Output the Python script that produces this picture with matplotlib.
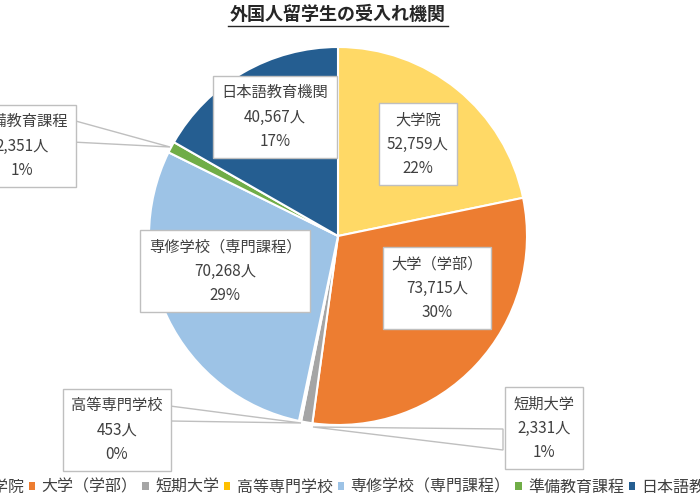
import matplotlib.pyplot as plt
from matplotlib.patches import Patch, Polygon

plt.rcParams['font.family'] = ['Noto Sans CJK JP', 'DejaVu Sans']

categories = ['大学院', '大学（学部）', '短期大学', '高等専門学校',
              '専修学校（専門課程）', '準備教育課程', '日本語教育機関']
students = [52759, 73715, 2331, 453, 70268, 2351, 40567]
colors = ['#FFD966', '#ED7D31', '#A5A5A5', '#FFC000', '#9DC3E6', '#70AD47', '#255E91']

# label box centres (pixel coords, y from top)
label_pos = [(418, 144), (437, 288), (544, 428), (117, 430),
             (225, 271), (22, 146), (275, 117)]
# callout wedges: (tip, box point 1, box point 2)
callouts = {
    2: ((313, 427), (503, 429), (503, 450)),
    3: ((301, 423), (170, 406), (170, 421)),
    5: ((170, 147), (72, 120), (72, 142)),
}

W, H = 700, 500
fig = plt.figure(figsize=(7, 5), dpi=100)
ax = fig.add_axes([0, 0, 1, 1])

total = sum(students)
wedges, _ = ax.pie(students, colors=colors, startangle=90, counterclock=False,
                   center=(338, H - 236), radius=189,
                   wedgeprops=dict(edgecolor='white', linewidth=1.5))
ax.set_xlim(0, W)
ax.set_ylim(0, H)
ax.set_aspect('equal')
ax.axis('off')

for i, (cat, n) in enumerate(zip(categories, students)):
    x, y = label_pos[i]
    pct = round(n / total * 100)
    if i in callouts:
        pts = [(px, H - py) for px, py in callouts[i]]
        ax.add_patch(Polygon(pts, closed=True, fc='white', ec='#BFBFBF', lw=1, zorder=3))
    ax.text(x, H - y, f'{cat}\n{n:,}人\n{pct}%', ha='center', va='center',
            fontsize=11, color='#404040', linespacing=1.55, zorder=4,
            bbox=dict(boxstyle='square,pad=0.55', fc='white', ec='#BFBFBF', lw=1))

ax.text(338, H - 14, '外国人留学生の受入れ機関', ha='center', va='center',
        fontsize=13, fontweight='bold', color='#262626')
ax.plot([228, 448], [H - 26, H - 26], color='#262626', lw=1)

handles = [Patch(facecolor=c, edgecolor='none') for c in colors]
fig.legend(handles, categories, loc='center', bbox_to_anchor=(0.512, 0.026),
           ncol=7, frameon=False, fontsize=11.5, handlelength=0.4, handleheight=0.4,
           handletextpad=0.4, columnspacing=0.3, labelcolor='#404040')

fig.savefig('out.png', dpi=100)
